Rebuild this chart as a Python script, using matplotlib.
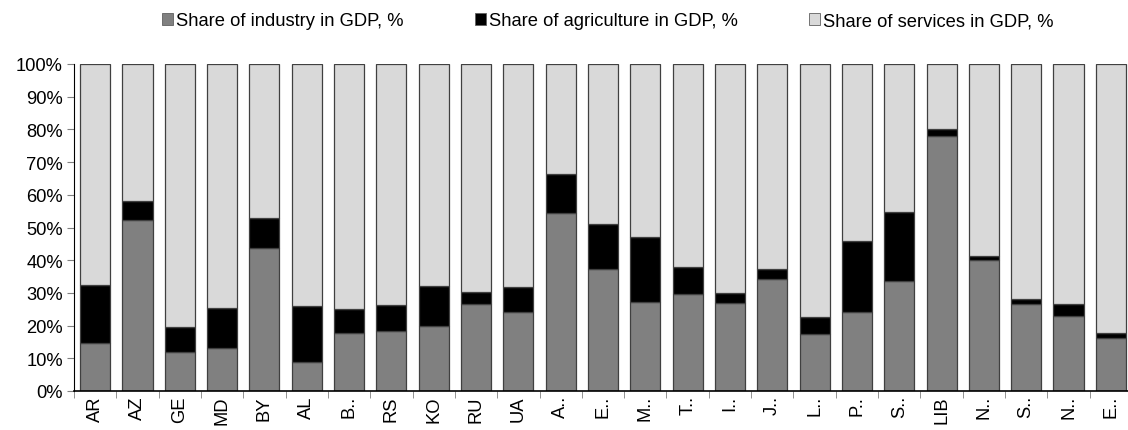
import matplotlib.pyplot as plt
import numpy as np

plt.rcParams['font.family'] = ['Liberation Sans', 'DejaVu Sans']

countries = ['AR', 'AZ', 'GE', 'MD', 'BY', 'AL', 'B..', 'RS', 'KO', 'RU', 'UA',
             'A..', 'E..', 'M..', 'T..', 'I..', 'J..', 'L..', 'P..', 'S..', 'LIB',
             'N..', 'S..', 'N..', 'E..']
industry = [14.7, 52.4, 12.0, 13.1, 43.8, 8.8, 17.6, 18.2, 20.0, 26.5, 24.3,
            54.4, 37.2, 27.2, 29.8, 26.9, 34.2, 17.5, 24.2, 33.6, 78.1,
            40.0, 26.7, 23.0, 16.2]
agriculture = [17.6, 5.6, 7.5, 12.3, 9.2, 17.1, 7.4, 8.2, 12.1, 3.8, 7.4,
               12.0, 13.9, 20.0, 8.0, 3.2, 3.0, 5.1, 21.7, 21.1, 2.0,
               1.3, 1.4, 3.6, 1.5]
services = [100 - i - a for i, a in zip(industry, agriculture)]

x = np.arange(len(countries))
w = 0.71
edge = '#404040'

fig = plt.figure(figsize=(11.28, 4.31), dpi=100)
ax = fig.add_axes([74 / 1128, 39 / 431, 1058 / 1128, 327 / 431])

ax.bar(x, industry, w, color='#808080', edgecolor=edge, linewidth=0.9,
       label='Share of industry in GDP, %')
ax.bar(x, agriculture, w, bottom=industry, color='#000000', edgecolor=edge,
       linewidth=0.9, label='Share of agriculture in GDP, %')
bottom2 = [i + a for i, a in zip(industry, agriculture)]
ax.bar(x, services, w, bottom=bottom2, color='#D9D9D9', edgecolor=edge,
       linewidth=0.9, label='Share of services in GDP, %')

ax.set_xlim(-0.5, len(countries) - 0.5)
ax.set_ylim(0, 100)
ax.set_yticks(range(0, 101, 10))
ax.set_yticklabels([f'{v}%' for v in range(0, 101, 10)], fontsize=13.2)
ax.set_xticks(x)
ax.set_xticklabels(countries, rotation=90, fontsize=13.2)
ax.set_xticks(np.arange(-0.5, len(countries), 1), minor=True)
ax.tick_params(axis='x', which='major', length=0, pad=3)
ax.tick_params(axis='x', which='minor', length=5, color='#808080', direction='out')
ax.tick_params(axis='y', length=5, color='#808080', direction='out', pad=3)

for s in ['top', 'right']:
    ax.spines[s].set_visible(False)
ax.spines['left'].set_color('black')
ax.spines['bottom'].set_color('black')
ax.spines['bottom'].set_linewidth(1.2)

leg = fig.legend(loc='center', bbox_to_anchor=(608 / 1128, 1 - 22 / 431), ncol=3,
                 frameon=False, fontsize=13.2, handlelength=0.6, handleheight=0.6,
                 handletextpad=0.15, columnspacing=3.9)
for h in leg.legend_handles:
    h.set_edgecolor('#606060')
    h.set_linewidth(0.6)

plt.savefig('out.png', dpi=100)
